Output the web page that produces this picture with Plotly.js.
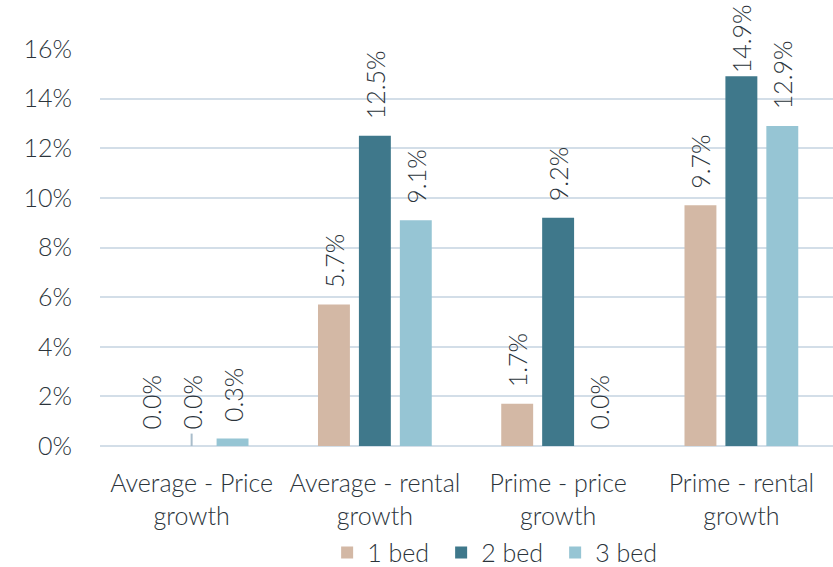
<!DOCTYPE html>
<html>
<head>
<meta charset="utf-8">
<script src="https://cdn.plot.ly/plotly-3.0.1.min.js"></script>
<style>html,body{margin:0;padding:0;background:#fff;}#chart{width:833px;height:567px;}</style>
</head>
<body>
<div id="chart"></div>
<script>
var categories = ["Average - Price<br>growth", "Average - rental<br>growth", "Prime - price<br>growth", "Prime - rental<br>growth"];
var bed1 = [0.0, 5.7, 1.7, 9.7];
var bed2 = [0.0, 12.5, 9.2, 14.9];
var bed3 = [0.3, 9.1, 0.0, 12.9];
var bed2Marker = [0.5, 0, 0, 0];
var seriesNames = ["1 bed", "2 bed", "3 bed"];
var colors = ["#D3B8A5", "#3F788B", "#96C5D4"];
var tickVals = [0, 2, 4, 6, 8, 10, 12, 14, 16];
var tickText = ["0%", "2%", "4%", "6%", "8%", "10%", "12%", "14%", "16%"];

var FONT = "Lato, 'Noto Sans', sans-serif";
var TXT = "#2b343b";
var PAD = "\u00a0\u00a0%{y:.1f}%";
function mk(name, y, color, tmpl, extra) {
  var t = {
    type: "bar", name: name, x: categories, y: y,
    marker: {color: color},
    texttemplate: tmpl,
    textposition: "outside",
    textangle: -90,
    cliponaxis: false,
    constraintext: "none",
    textfont: {family: FONT, size: 25, color: TXT, weight: 300},
    hoverinfo: "none"
  };
  if (extra) Object.assign(t, extra);
  return t;
}
var data = [
  mk(seriesNames[0], bed1, colors[0], PAD),
  mk(seriesNames[1], bed2, colors[1], [PAD, PAD, PAD, "%{y:.1f}%"],
     {error_y: {type: "data", symmetric: false, array: bed2Marker, arrayminus: [0,0,0,0], color: "#A9BDCB", thickness: 2, width: 0}}),
  mk(seriesNames[2], bed3, colors[2], PAD)
];
var layout = {
  width: 833, height: 567,
  margin: {l: 100, r: 0, t: 49, b: 121, autoexpand: false},
  paper_bgcolor: "#fff", plot_bgcolor: "#fff",
  font: {family: FONT, size: 25, color: TXT, weight: 300},
  barmode: "group",
  bargap: 0.33,
  bargroupgap: 0.22,
  showlegend: true,
  legend: {orientation: "h", xref: "container", yref: "container", x: 0.598, xanchor: "center", y: 0.025, yanchor: "middle",
           font: {family: FONT, size: 25, color: TXT, weight: 300}, traceorder: "normal", itemwidth: 30,
           entrywidth: 69, entrywidthmode: "pixels"},
  xaxis: {showgrid: false, showline: false, ticks: "", ticklabelstandoff: 20, tickfont: {size: 25}},
  yaxis: {range: [0, 16], tickvals: tickVals, ticktext: tickText, showgrid: true,
          gridcolor: "#D3DEE8", gridwidth: 2, zeroline: true, zerolinecolor: "#D3DEE8", zerolinewidth: 2,
          showline: false, ticks: "", ticklabelstandoff: 27, tickfont: {size: 25}}
};
Plotly.newPlot("chart", data, layout, {displayModeBar: false, staticPlot: true});
</script>
</body>
</html>
